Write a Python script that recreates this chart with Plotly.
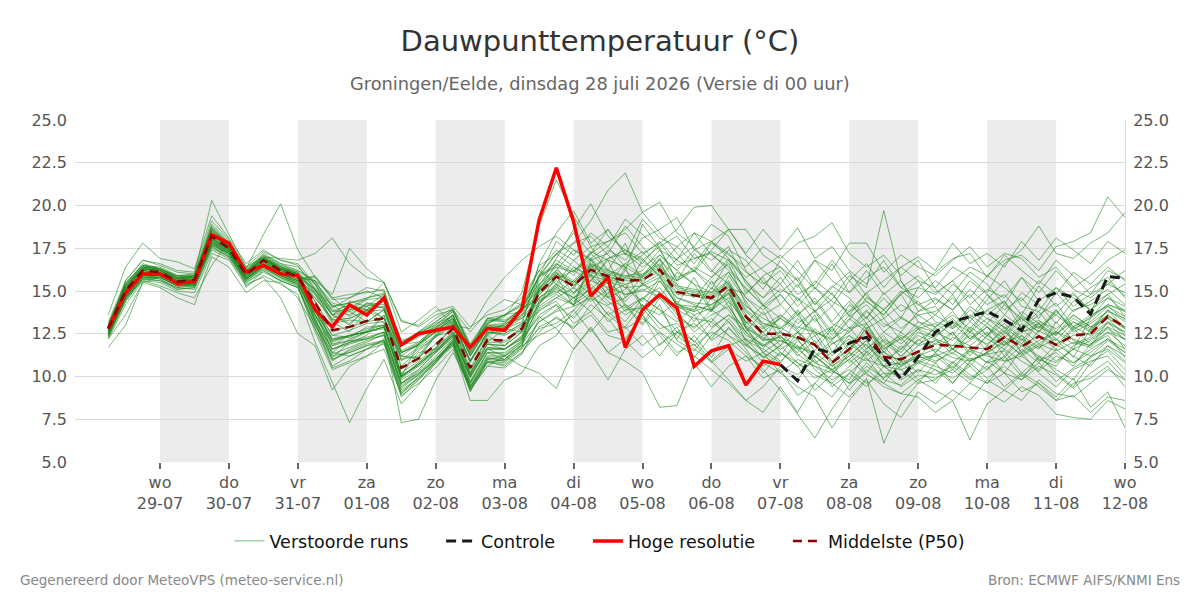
import pandas as pd
import plotly.graph_objects as go

# ---------------- data ----------------
start_time = "2026-07-28 06:00"
n_steps = 60  # 6-hourly, 28-07 06:00 .. 12-08 00:00

hires = [12.8, 14.9, 16.0, 16.0, 15.45, 15.55, 18.3, 17.8, 16.1, 16.5, 16.0, 15.9,
         13.9, 12.9, 14.2, 13.6, 14.6, 11.85, 12.5, 12.7, 12.9, 11.7, 12.8, 12.7,
         13.95, 19.15, 22.2, 19.05, 14.7, 15.8, 11.7, 13.9, 14.8, 14.0, 10.6, 11.5,
         11.8, 9.5, 10.9, 10.7]

control_start = 39  # control is shown from 07-08 00:00 onward
control = [10.7, 9.75, 11.65, 11.35, 11.95, 12.3, 11.15, 9.85, 11.15, 12.6, 13.2,
           13.5, 13.8, 13.3, 12.7, 14.5, 14.9, 14.65, 13.65, 15.85, 15.75]

p50 = [12.8, 15.0, 16.2, 16.1, 15.55, 15.65, 18.2, 17.5, 15.95, 16.8, 16.2, 15.85,
       14.3, 12.7, 12.9, 13.25, 13.4, 10.5, 11.05, 11.85, 12.8, 10.5, 12.15, 12.1, 12.8,
       14.9, 15.85, 15.3, 16.25, 15.85, 15.6, 15.65, 16.25, 14.95, 14.75, 14.6, 15.3,
       13.5, 12.5, 12.5, 12.3, 11.85, 10.8, 11.6, 12.6, 11.15, 11.0, 11.45,
       11.85, 11.8, 11.7, 11.6, 12.3, 11.75, 12.35, 11.85, 12.4, 12.5, 13.5, 12.9]

perturbed_runs = [
    [12.9,15.4,16.6,16.3,15.9,15.8,18.9,17.9,16.3,17.1,16.6,16.2, 15.5,14.3,14.0,14.6,14.9,11.9,12.0,12.9,13.6,11.4,13.1,13.6,14.3, 16.2,17.4,16.8,17.6,17.9,18.4,17.2,17.8,16.5,16.9,17.3,16.8, 15.6,14.2,15.1,14.6,13.8,14.9,13.5,14.2,13.1,12.6,13.8, 14.5,13.9,15.1,14.2,14.8,13.6,15.3,14.1,14.9,13.8,15.6,14.7],
    [12.4,14.5,15.8,15.7,15.1,15.2,17.6,17.0,15.5,16.1,15.6,15.2, 13.0,11.0,11.4,11.8,12.0,9.0,10.0,10.9,11.9,9.4,10.9,10.8,11.6, 13.2,13.8,14.1,14.6,13.2,13.9,14.0,12.8,13.1,12.0,13.2,12.4, 11.8,11.2,10.6,10.1,11.0,9.4,10.2,11.1,9.8,9.5,10.4, 10.1,10.6,9.8,10.4,11.2,10.0,10.8,9.7,10.5,11.1,11.8,10.9],
    [12.7,15.1,16.3,16.2,15.7,15.9,18.4,17.6,16.1,17.0,16.9,16.8, 17.2,18.1,16.6,15.8,15.5,13.3,12.9,13.6,13.9,12.6,13.8,14.5,14.2, 15.8,16.5,17.8,18.2,17.1,16.2,18.9,17.5,15.6,17.2,16.1,17.4, 16.8,15.5,14.9,15.8,14.2,15.2,16.1,14.7,13.9,15.0,14.2, 13.6,14.8,13.2,14.5,15.6,14.1,13.8,15.2,14.6,13.9,14.8,15.4],
    [12.2,14.2,15.6,15.5,15.0,14.9,17.2,16.8,15.3,15.9,15.4,14.8, 12.0,9.6,7.3,9.3,11.0,8.4,9.5,10.8,12.1,9.3,10.6,11.2,11.8, 12.4,12.9,13.6,14.8,15.5,14.1,13.0,14.2,12.1,11.5,12.8,13.6, 12.9,11.4,10.8,12.1,11.2,10.3,9.8,11.5,10.6,9.9,10.8, 11.2,10.4,11.5,10.8,11.9,12.4,11.0,10.6,11.8,12.2,12.9,11.6],
    [11.7,13.0,15.5,15.8,15.3,15.4,17.9,17.3,15.8,16.4,15.9,15.6, 13.2,11.1,12.0,12.4,13.6,10.0,11.9,12.8,13.2,11.6,13.1,13.5,14.9, 18.8,21.5,19.4,17.6,16.2,17.8,15.4,16.9,14.2,13.8,15.6,14.1, 12.6,13.8,12.2,11.4,12.8,11.9,12.6,13.5,12.0,11.2,12.1, 12.8,11.6,12.1,12.9,11.8,12.6,13.1,12.2,11.6,13.4,14.2,13.8],
    [12.9,15.3,16.5,16.4,15.9,15.9,18.7,17.7,16.0,16.8,16.3,15.9, 15.0,14.2,13.5,14.3,14.0,11.4,11.8,12.6,13.6,11.2,12.9,13.0,13.8, 15.9,17.2,17.8,19.1,20.9,21.9,19.6,18.4,17.2,16.1,17.4,18.6, 17.1,16.2,15.4,16.8,15.2,14.1,15.6,14.4,13.6,14.8,13.2, 12.9,13.8,12.6,13.9,14.4,12.8,13.6,14.3,12.9,13.6,14.1,13.3],
    [12.5,14.7,15.9,15.9,15.4,15.5,17.8,17.2,15.7,16.5,15.9,15.4, 13.6,12.0,12.4,12.6,12.9,9.9,10.8,11.6,12.4,10.0,11.7,11.6,12.2, 13.5,12.8,11.6,12.9,11.4,10.9,10.2,8.2,8.3,10.8,9.4,10.6, 11.2,9.9,10.4,8.9,9.6,10.8,9.2,10.4,9.6,10.9,9.8, 10.4,9.6,10.8,9.9,10.6,9.8,11.2,10.2,9.4,10.8,11.5,10.4],
    [12.8,15.2,16.4,16.2,15.6,15.7,18.5,17.4,16.3,18.3,20.1,17.4, 15.8,14.6,13.8,13.2,13.9,11.4,11.8,12.7,13.4,11.5,12.5,13.1,13.4, 14.6,15.2,16.4,15.8,14.6,15.1,16.8,15.9,14.2,13.9,15.2,14.4, 13.2,12.1,13.6,12.7,11.5,12.8,11.4,12.9,11.6,12.3,11.1, 12.2,11.3,12.6,11.8,12.9,11.4,12.7,12.1,13.2,12.6,13.9,12.8],
    [13.2,15.6,16.8,16.5,16.1,16.0,20.3,18.3,16.4,17.0,16.4,16.1, 13.9,11.4,12.2,12.6,12.9,9.8,10.4,11.4,12.5,10.0,11.6,11.6,12.2, 15.2,16.1,14.9,15.6,16.8,14.6,15.9,17.1,16.2,15.4,13.8,15.9, 14.4,12.9,11.8,13.4,12.6,11.2,12.4,11.8,10.9,11.6,12.8, 11.4,12.6,11.2,12.4,13.1,12.2,11.6,13.2,12.1,11.8,13.2,12.1],
    [12.6,14.6,15.6,15.3,14.9,14.6,16.5,17.9,15.2,16.2,15.6,15.2, 12.8,10.6,11.2,11.6,12.1,9.2,9.9,10.9,12.0,9.3,11.0,11.2,12.0, 14.2,15.4,14.6,15.1,16.0,15.2,14.4,15.8,14.1,13.6,14.0,15.1, 12.8,12.3,11.6,12.2,10.8,10.4,11.2,12.1,10.6,10.8,11.2, 11.6,11.1,10.9,11.4,12.0,11.3,11.9,11.5,12.0,11.7,12.6,12.2],
    [12.4,14.4,15.7,15.6,15.2,15.1,17.4,16.9,15.4,15.8,14.6,12.5, 11.8,9.2,10.6,11.2,12.0,8.8,9.8,10.9,12.2,9.1,10.9,10.6,11.4, 12.6,13.5,12.8,14.2,13.4,12.1,13.6,12.4,11.2,12.4,11.1,12.9, 11.6,10.2,11.4,10.6,9.2,10.1,11.4,10.2,11.5,10.4,9.6, 9.8,10.9,10.1,9.6,10.8,11.4,10.2,9.4,10.4,10.9,11.2,10.1],
    [12.7,14.9,16.0,16.0,15.5,15.6,18.0,17.3,15.8,16.6,16.0,15.6, 15.9,14.6,14.8,14.9,15.1,11.8,12.6,13.2,13.9,11.6,13.4,13.2,14.0, 14.5,15.0,14.2,16.8,15.4,14.8,15.1,14.6,13.8,12.6,13.4,12.4, 11.4,10.4,9.2,7.8,6.4,8.1,9.5,10.6,9.9,11.1,10.2, 11.4,10.5,11.6,10.8,11.1,12.2,10.9,11.4,10.6,11.9,12.6,11.8],
    [13.0,15.5,16.5,16.2,15.8,15.9,18.6,17.6,16.1,16.9,16.4,16.0, 14.8,13.6,13.0,14.1,13.4,11.2,11.1,12.4,13.3,10.9,12.5,12.9,13.5, 15.1,16.6,15.9,17.2,16.2,15.8,16.2,17.4,15.6,16.2,15.1,16.8, 14.9,15.8,14.2,15.4,13.8,14.5,15.9,15.2,19.7,15.6,13.8, 14.1,12.8,13.5,12.4,13.6,12.9,13.8,12.6,13.9,14.2,14.8,13.5],
    [12.5,14.8,16.1,16.0,15.5,15.3,17.9,17.3,15.9,16.6,16.1,15.7, 13.2,10.5,10.9,11.6,11.9,9.0,9.8,10.8,12.0,9.6,11.4,11.0,11.8, 14.4,14.9,15.6,14.8,15.9,14.2,13.6,14.9,13.6,12.8,13.9,13.2, 12.1,11.6,10.9,11.8,10.4,9.6,8.8,9.9,6.1,8.4,9.6, 10.8,9.6,10.9,11.4,10.2,11.6,10.8,11.9,11.2,10.6,11.8,11.2],
    [12.6,14.9,16.1,16.1,15.6,15.6,18.1,17.4,16.0,16.7,16.2,15.8, 15.6,14.0,14.6,15.0,14.6,12.1,12.4,12.9,13.4,11.8,13.0,12.9,13.6, 14.8,15.6,14.9,16.0,15.1,14.4,15.4,16.0,14.6,14.2,13.8,14.9, 12.8,11.7,12.4,11.3,10.6,10.2,11.0,10.1,9.6,9.0,8.8, 7.9,8.6,6.3,8.4,9.2,8.6,9.8,9.0,8.8,9.6,10.4,9.8],
    [12.9,15.2,16.3,16.2,15.7,15.8,18.3,17.6,16.1,16.9,16.3,16.0, 13.9,12.1,12.4,12.6,12.9,10.0,10.8,11.5,12.4,10.1,11.9,11.6,12.4, 15.0,16.0,15.4,16.4,16.0,15.7,15.8,16.4,15.1,14.9,14.7,15.4, 13.6,12.6,13.4,12.8,13.9,12.6,14.2,13.4,14.6,13.4,15.2, 14.8,15.6,16.4,15.9,16.8,17.1,16.2,17.6,17.9,18.4,20.5,19.3],
    [12.6,14.7,15.9,15.9,15.4,15.5,18.0,17.3,15.8,16.6,16.1,15.7, 14.8,13.1,13.3,13.2,13.9,10.6,11.5,12.3,13.0,10.8,12.6,12.4,13.0, 14.6,15.4,14.8,15.9,15.6,15.2,15.3,15.8,14.6,14.3,14.2,14.8, 13.0,12.2,12.1,11.7,11.4,10.6,11.2,12.1,10.9,10.7,11.1, 11.2,11.6,11.0,11.3,11.5,10.2,9.6,8.8,9.9,8.2,9.1,7.0],
    [12.8,15.1,16.3,16.2,15.7,15.7,18.4,17.6,16.0,16.9,16.3,15.9, 13.6,11.6,12.0,12.2,12.6,9.6,10.3,11.2,12.2,9.7,11.4,11.4,12.1, 15.1,16.1,15.5,16.5,16.1,15.8,15.9,16.5,15.2,15.0,14.8,15.5, 13.8,12.9,13.6,12.9,12.6,12.1,13.3,14.6,13.9,14.8,15.6, 15.2,16.4,15.8,14.9,16.6,17.4,18.8,17.2,16.9,17.8,18.4,19.6],
    [13.1,15.4,16.5,16.3,15.9,16.0,18.8,17.8,16.2,17.2,16.6,16.4, 15.4,13.8,14.2,13.9,14.6,11.8,12.4,13.1,13.5,11.6,13.2,13.6,13.8, 16.5,17.1,18.4,17.2,18.6,17.1,19.2,18.1,17.6,18.4,17.9,16.9, 15.8,16.4,17.1,16.2,15.1,16.6,14.9,15.8,16.4,15.2,14.6, 15.6,14.8,16.1,15.4,14.2,15.8,14.9,16.2,15.1,14.6,15.4,16.2],
    [12.3,14.6,15.7,15.8,15.3,15.3,17.7,17.1,15.6,16.3,15.8,15.4, 13.2,11.6,12.0,12.3,12.6,9.6,10.4,11.4,12.3,9.7,11.4,11.3,12.1, 13.6,14.2,13.4,14.6,14.1,13.2,14.6,13.9,12.6,13.1,12.2,13.4, 12.2,11.1,11.8,10.8,10.1,9.6,10.6,11.4,10.2,10.1,10.9, 10.6,10.2,11.1,10.4,11.6,10.9,10.3,11.2,10.8,11.6,12.2,11.4],
    [12.6,14.8,16.0,16.0,15.5,15.6,18.0,17.4,15.9,16.7,16.1,15.8, 15.1,13.6,13.8,14.2,14.0,11.2,11.9,12.6,13.4,11.3,12.9,12.8,13.4, 14.3,15.2,14.6,15.4,14.4,13.6,14.2,13.1,12.4,11.6,10.9,9.8, 8.6,7.9,9.4,7.9,9.6,8.8,10.2,9.4,10.6,9.8,10.4, 9.6,10.8,9.9,10.6,9.4,10.2,11.1,10.4,9.8,11.2,11.6,10.8],
    [12.9,15.3,16.4,16.3,15.8,15.8,18.5,17.7,16.1,17.0,16.4,16.0, 14.0,12.4,12.3,12.9,13.0,10.1,10.6,11.7,12.5,10.2,11.9,11.8,12.6, 15.4,16.4,16.1,17.3,16.8,16.4,17.1,17.9,16.8,16.2,17.8,17.1, 16.4,17.6,16.9,17.8,18.2,19.0,17.2,16.4,17.1,15.9,16.8, 15.1,14.2,15.6,14.8,13.9,14.6,13.4,14.9,13.8,14.4,15.1,14.2],
    [12.8,15.0,16.2,16.0,15.5,15.6,18.1,17.5,16.0,16.8,16.2,15.9, 14.6,13.4,13.9,14.5,15.5,12.6,13.3,14.1,13.0,12.8,14.5,15.8,16.8, 17.6,18.2,17.4,16.9,17.6,16.4,15.8,16.9,15.4,14.6,15.8,16.6, 14.2,13.1,12.8,13.9,12.6,12.2,13.4,12.6,11.8,12.4,11.9, 12.4,13.1,12.2,12.9,12.0,12.8,13.3,12.5,13.2,12.7,13.6,12.9],
    [12.4,14.6,15.9,15.8,15.3,15.4,17.8,17.2,15.7,16.4,15.8,15.4, 13.6,11.8,12.1,12.2,12.6,7.3,7.5,9.8,11.4,9.4,10.8,11.0,11.9, 13.2,13.9,14.6,13.8,14.9,15.4,14.1,13.6,14.4,13.2,14.6,13.9, 12.4,11.9,11.2,12.6,11.8,10.9,11.6,12.8,11.4,10.9,11.8, 12.1,11.6,12.4,11.9,12.7,11.4,12.1,12.6,11.9,12.3,13.1,12.6],
    [12.6,14.8,16.0,15.9,15.4,15.5,17.9,17.3,15.8,16.5,16.0,15.6, 13.9,12.2,12.3,12.7,13.0,10.0,10.7,11.5,12.4,10.0,11.6,11.2,10.6, 10.2,9.3,11.6,12.8,11.4,12.2,13.6,11.8,12.9,11.1,12.4,13.2, 11.8,12.6,11.4,10.6,11.2,12.1,10.8,11.6,12.4,11.1,12.2, 11.4,12.3,11.8,12.6,11.2,12.4,11.7,12.2,11.1,12.8,13.4,12.4],
    [12.7,15.0,16.2,16.1,15.6,15.7,18.3,17.5,16.0,16.8,16.3,15.9, 15.4,14.1,14.3,14.5,14.6,11.8,12.3,13.0,13.8,11.7,13.3,13.2,13.8, 15.3,16.9,18.6,20.1,18.2,17.4,16.9,15.8,16.9,17.6,16.2,15.4, 14.1,13.4,12.9,12.2,13.6,11.4,12.8,13.1,11.6,12.2,12.9, 12.6,12.1,13.2,12.4,13.4,12.6,12.9,13.6,12.8,13.2,14.1,13.5],
    [12.9,15.2,16.3,16.2,15.7,15.7,18.4,17.6,16.1,16.9,16.4,16.0, 13.4,11.0,11.5,11.9,12.1,9.3,10.1,11.0,11.9,9.2,11.0,10.9,11.7, 15.9,16.6,16.1,17.2,17.9,18.6,19.6,20.2,18.4,17.6,18.9,18.2, 16.2,15.1,16.8,15.6,14.2,15.3,14.6,13.4,14.9,13.8,14.4, 13.2,12.8,13.9,13.1,14.2,13.4,12.6,13.9,12.7,13.5,14.2,13.9],
    [12.5,14.7,15.9,15.9,15.4,15.4,17.8,17.2,15.7,16.5,16.0,15.6, 14.6,13.3,13.4,13.8,13.9,10.9,11.6,12.3,13.2,10.9,12.6,12.5,13.1, 14.1,14.8,14.2,15.2,14.6,14.0,14.6,15.2,13.9,13.4,13.2,14.4, 12.0,10.8,10.2,9.4,8.8,7.0,8.6,9.8,8.4,7.6,9.1, 8.4,9.2,8.6,9.8,9.2,10.1,9.4,8.6,9.6,9.9,10.6,9.4],
    [12.8,15.1,16.3,16.2,15.7,15.8,18.3,17.6,16.1,16.9,16.3,16.0, 14.1,12.4,12.7,13.1,13.2,10.2,10.9,11.7,12.6,10.4,12.0,12.0,12.7, 15.2,16.2,15.6,16.6,16.2,15.9,16.0,16.6,15.3,15.1,14.9,15.6, 13.9,13.1,12.8,13.6,12.4,12.9,13.8,14.4,13.6,14.9,15.2, 16.1,16.9,17.2,15.8,17.1,16.2,15.4,16.8,15.9,14.8,16.2,15.7],
    [12.5,14.6,15.8,15.8,15.3,15.4,17.7,17.1,15.6,16.4,15.9,15.5, 13.4,11.3,11.7,12.1,12.4,9.4,10.1,11.0,12.0,9.5,11.1,11.0,11.9, 13.9,14.4,13.1,13.8,12.6,12.9,11.8,12.6,11.4,11.9,10.8,11.6, 10.9,11.4,10.2,11.0,10.6,9.8,10.4,9.6,10.2,9.4,10.1, 9.9,10.4,9.6,10.9,10.2,9.8,10.6,10.1,9.3,10.2,10.9,9.8],
    [13.0,15.3,16.4,16.3,15.8,15.8,18.6,17.7,16.2,17.1,16.5,16.2, 15.6,14.8,17.5,16.3,15.5,13.2,13.0,13.8,14.1,12.9,13.6,13.9,14.6, 16.2,15.4,16.8,15.9,14.8,16.2,15.4,14.6,16.1,15.4,14.9,16.1, 14.6,13.9,14.8,13.6,14.4,13.1,12.6,13.8,12.9,13.5,12.8, 13.1,12.4,13.6,12.9,12.2,13.5,12.8,13.9,12.6,13.1,13.8,13.4],
    [12.7,14.9,16.1,16.1,15.6,15.6,18.2,17.5,16.0,16.8,16.2,15.9, 15.1,13.8,13.9,14.1,14.4,11.5,12.0,12.8,13.6,11.4,13.0,13.1,14.0, 15.8,17.2,16.4,15.9,17.4,16.8,18.1,18.6,19.3,17.4,16.8,17.6, 15.4,14.6,15.8,14.4,15.6,14.8,13.6,14.9,13.4,14.2,13.6, 13.8,14.6,13.4,14.8,13.6,14.9,14.2,13.1,14.4,15.2,15.8,14.6],
    [12.4,14.5,15.8,15.7,15.2,15.3,17.6,17.0,15.6,16.3,15.7,15.3, 12.6,10.4,10.8,11.2,11.6,8.9,9.6,10.5,11.6,9.2,10.6,10.5,11.3, 13.4,14.2,12.6,11.4,9.8,11.6,12.4,11.2,12.6,12.1,10.9,11.8, 12.2,11.8,12.6,11.6,12.4,10.9,11.9,11.2,12.1,11.4,12.6, 12.2,11.8,12.9,12.2,11.6,12.8,11.9,12.6,12.2,11.8,12.9,12.4],
    [12.8,15.0,16.2,16.1,15.6,15.6,18.2,17.5,16.0,16.8,16.2,15.9, 14.4,12.7,12.9,13.2,13.4,10.5,11.1,11.9,12.8,10.5,12.2,12.1,12.8, 14.9,15.8,15.3,16.2,15.8,15.6,15.6,16.3,14.9,14.8,14.6,15.3, 13.4,12.4,12.6,12.2,11.9,10.8,11.6,12.6,11.2,11.0,11.5, 11.9,11.8,11.7,11.6,12.3,11.8,12.4,11.9,12.4,12.5,13.5,12.9],
    [12.7,15.0,16.1,16.0,15.5,15.6,18.1,17.4,15.9,16.7,16.1,15.8, 15.8,14.5,14.6,15.2,15.0,12.0,12.6,13.4,14.0,11.9,13.4,13.6,14.1, 15.0,15.8,15.3,16.1,15.7,15.4,15.7,16.1,14.8,14.7,14.5,15.2, 14.8,15.9,16.4,15.6,16.8,16.2,17.8,17.8,16.1,17.1,16.4, 15.9,16.8,17.6,16.4,17.2,16.9,15.8,16.4,15.2,15.9,16.8,17.4],
    [12.5,14.6,15.8,15.8,15.3,15.3,17.7,17.2,15.7,16.4,15.8,15.3, 13.0,11.4,11.2,11.6,12.2,9.6,10.2,11.0,11.8,8.6,8.6,9.8,10.2, 11.8,12.4,13.9,14.8,13.6,14.2,13.1,14.6,13.4,12.9,13.6,14.1, 12.6,11.4,12.1,11.6,10.8,11.4,12.2,11.0,10.6,11.8,10.9, 11.3,10.8,11.6,11.2,10.9,11.8,11.2,10.8,11.6,11.2,12.1,11.4],
    [12.9,15.2,16.4,16.2,15.7,15.7,18.4,17.6,16.1,16.9,16.3,16.0, 13.8,12.1,12.4,12.6,12.9,10.0,10.7,11.5,12.6,10.2,11.9,11.8,13.0, 16.6,18.4,19.7,17.8,18.6,17.2,16.8,17.6,18.2,16.9,17.2,16.2, 15.2,14.1,14.8,13.6,14.6,13.2,14.4,13.1,13.9,12.8,13.6, 12.9,13.6,12.8,13.9,12.8,13.4,12.6,13.8,12.9,13.4,14.6,13.8],
    [12.6,14.8,16.0,15.9,15.4,15.5,17.9,17.3,15.8,16.6,16.0,15.6, 14.9,13.3,13.4,13.9,14.1,11.0,11.7,12.4,13.3,10.9,12.6,12.5,13.1, 13.8,14.6,14.2,14.9,13.6,12.8,13.4,12.6,11.9,11.2,10.4,9.6, 8.6,9.4,10.6,9.8,11.2,10.4,9.6,10.8,9.9,10.6,11.4, 10.9,11.4,10.6,11.8,10.9,11.2,10.4,11.6,10.8,11.4,12.2,11.6],
    [12.8,15.1,16.2,16.1,15.6,15.7,18.3,17.5,16.0,16.8,16.2,15.9, 13.3,11.6,11.9,12.2,12.4,9.5,10.1,11.0,12.1,9.6,11.2,11.2,12.0, 15.1,16.0,15.5,16.4,16.9,17.4,16.6,17.8,18.6,19.9,20.0,18.6, 18.6,17.1,16.4,15.2,16.8,15.6,14.9,16.2,14.8,15.6,14.2, 14.6,13.9,14.8,13.6,14.4,13.2,14.1,13.6,14.8,13.9,14.6,14.1],
    [12.7,14.9,16.1,16.0,15.5,15.6,18.1,17.4,15.9,16.7,16.1,15.8, 15.6,14.1,14.3,14.6,14.8,11.9,12.4,13.2,13.9,11.8,13.4,13.3,13.9, 14.8,15.7,16.2,15.6,16.9,17.2,16.4,17.1,16.2,17.4,17.9,18.6, 17.2,18.6,17.4,18.7,16.9,17.6,16.2,15.4,16.8,15.2,15.9, 14.9,15.6,14.2,15.1,14.6,15.8,14.4,15.2,14.1,14.8,15.4,14.9],
    [12.3,14.4,15.7,15.6,15.1,15.2,17.5,17.0,15.5,16.2,15.6,15.2, 13.0,11.2,11.4,11.8,12.1,9.1,9.9,10.8,11.8,9.2,10.8,10.7,11.4, 12.9,13.4,12.9,13.6,12.4,12.1,11.1,11.9,12.6,11.8,12.6,12.1, 11.2,10.6,11.4,10.8,9.9,10.4,9.6,10.2,9.4,9.0,9.8, 9.2,8.6,9.6,9.1,8.5,9.4,8.9,7.8,7.6,7.5,8.6,8.1],
    [13.0,15.4,16.5,16.3,15.8,15.9,18.6,17.7,16.2,17.0,16.5,16.1, 15.2,13.9,13.6,14.3,14.2,11.4,11.9,12.6,13.4,11.2,12.8,12.9,13.6, 15.6,16.8,16.2,16.9,15.9,16.6,17.3,16.2,15.6,16.4,15.8,16.9, 15.6,14.6,15.4,14.1,15.2,14.4,13.8,14.9,15.6,16.4,17.0, 16.2,17.8,16.6,17.2,16.4,17.9,16.8,18.1,17.4,16.6,17.9,17.2],
    [12.6,14.7,15.9,15.9,15.4,15.4,17.8,17.2,15.7,16.5,15.9,15.5, 13.8,12.2,12.4,12.8,13.0,10.0,10.7,11.5,12.4,10.1,11.7,11.6,12.3, 14.0,14.6,15.2,14.4,15.1,13.8,14.6,13.9,13.2,14.1,12.9,13.6, 12.6,11.8,12.4,11.2,12.1,10.6,11.4,10.9,11.8,10.6,11.2, 10.8,11.6,10.9,11.4,12.1,11.2,11.8,10.9,11.6,12.1,12.8,12.2],
    [12.9,15.2,16.3,16.2,15.7,15.8,18.4,17.6,16.0,16.9,16.3,16.0, 15.1,13.2,12.6,13.9,13.1,11.2,11.0,12.4,12.6,11.0,12.0,12.8,12.6, 14.2,15.9,14.1,16.6,14.6,16.4,13.9,15.6,14.2,15.8,13.9,15.1, 13.1,14.2,12.6,13.8,11.9,12.9,11.6,13.1,11.4,12.6,11.8, 12.9,11.6,12.8,11.4,12.6,11.9,13.1,11.8,12.9,12.4,13.2,12.6],
    [12.5,14.7,15.9,15.8,15.3,15.4,17.8,17.2,15.7,16.5,15.9,15.5, 13.6,11.9,12.1,12.6,12.8,9.9,10.6,11.4,12.3,9.9,11.6,11.6,12.3, 14.4,15.1,14.6,15.6,15.2,14.8,15.0,15.6,14.2,14.1,13.9,14.6, 12.9,12.1,12.3,11.8,11.2,10.4,11.0,11.9,10.6,10.4,10.8, 10.4,9.9,10.6,9.6,10.2,9.1,9.6,8.6,8.9,7.9,8.8,8.6],
    [13.6,16.4,17.8,16.9,16.7,16.3,19.4,18.1,16.6,17.4,16.8,16.6, 15.4,13.6,14.4,14.1,14.8,11.9,12.6,13.0,13.8,11.8,13.1,13.6,14.2, 15.4,16.2,17.4,16.8,17.2,18.8,17.6,16.4,17.6,16.6,17.9,17.2, 16.1,15.4,16.2,14.8,15.4,16.8,15.6,16.6,15.2,16.4,15.6, 14.2,15.4,14.6,15.9,15.2,14.4,15.6,14.8,16.1,15.4,16.4,15.6],
    [12.2,13.6,15.5,15.2,14.6,14.2,17.0,16.4,14.9,15.6,15.5,14.6, 12.8,10.9,11.6,12.0,12.5,9.6,10.2,11.1,12.0,9.4,11.1,10.9,11.7, 12.8,13.1,13.9,12.6,13.8,12.9,14.2,13.1,12.2,13.6,12.1,12.8, 11.9,11.1,11.8,12.6,11.1,11.9,12.4,11.4,12.2,11.6,12.4, 11.9,12.6,11.4,12.4,11.8,13.1,12.4,11.6,12.8,11.9,12.4,11.1],
    [12.8,15.6,16.8,16.6,16.2,16.1,19.1,18.0,16.4,17.3,16.8,16.5, 15.1,13.6,14.1,13.9,14.4,11.4,11.9,12.8,13.6,11.2,12.8,13.0,13.9, 15.9,16.4,15.1,16.9,15.4,16.6,15.9,16.8,15.8,16.2,15.4,16.1, 14.6,13.6,14.2,13.1,13.8,12.4,13.6,12.8,13.4,12.1,13.2, 12.6,13.4,12.2,13.1,12.4,13.6,12.9,12.4,13.4,12.8,13.9,13.2],
    [12.6,14.9,16.0,16.0,15.5,15.5,18.0,17.4,15.9,16.6,16.0,15.7, 14.4,11.8,12.4,12.6,13.6,10.1,11.4,11.6,13.1,10.2,12.4,11.8,12.6, 14.6,15.3,14.4,15.1,14.2,14.6,15.4,14.9,14.1,13.8,14.2,14.9, 13.2,12.8,13.4,12.6,13.4,12.2,12.9,11.6,12.6,11.9,12.8, 12.3,13.2,12.6,13.4,12.9,12.1,13.2,12.8,13.6,12.9,13.4,12.8],
    [12.9,15.3,16.4,16.3,15.8,15.9,18.7,17.8,16.2,17.0,16.4,16.1, 14.9,13.6,13.1,13.9,13.4,11.0,11.2,12.5,13.1,10.9,12.4,12.8,13.2, 15.9,17.9,17.1,18.4,17.6,19.2,18.3,17.4,16.8,18.4,17.1,16.4, 15.1,14.2,13.4,14.6,13.2,14.1,12.8,13.9,12.6,13.4,12.9, 13.6,12.9,14.1,13.4,12.6,13.8,13.1,12.4,13.6,12.9,13.6,12.8],
]

tick_dates = ["2026-07-29", "2026-07-30", "2026-07-31", "2026-08-01", "2026-08-02",
              "2026-08-03", "2026-08-04", "2026-08-05", "2026-08-06", "2026-08-07",
              "2026-08-08", "2026-08-09", "2026-08-10", "2026-08-11", "2026-08-12"]
tick_days = ["wo", "do", "vr", "za", "zo", "ma", "di", "wo", "do", "vr", "za", "zo",
             "ma", "di", "wo"]
y_ticks = [5.0, 7.5, 10.0, 12.5, 15.0, 17.5, 20.0, 22.5, 25.0]

title_text = "Dauwpunttemperatuur (°C)"
subtitle_text = "Groningen/Eelde, dinsdag 28 juli 2026 (Versie di 00 uur)"
footer_left = "Gegenereerd door MeteoVPS (meteo-service.nl)"
footer_right = "Bron: ECMWF AIFS/KNMI Ens"
legend_names = ["Verstoorde runs", "Controle", "Hoge resolutie", "Middelste (P50)"]

# ---------------- figure ----------------
times = pd.date_range(start_time, periods=n_steps, freq="6h")
for run in perturbed_runs:
    assert len(run) == n_steps, len(run)
assert len(p50) == n_steps

pad = "\u00a0" * 5  # extra spacing between legend entries
fig = go.Figure()
for i, run in enumerate(perturbed_runs):
    fig.add_trace(go.Scatter(
        x=times, y=run, mode="lines", name=legend_names[0] + pad,
        legendgroup="ens", showlegend=(i == 0),
        line=dict(color="rgba(34,139,34,0.6)", width=1), hoverinfo="skip"))

fig.add_trace(go.Scatter(
    x=times[control_start:control_start + len(control)], y=control, mode="lines",
    name=legend_names[1] + pad, line=dict(color="#1a1a1a", width=3, dash="10px,6px")))
fig.add_trace(go.Scatter(
    x=times[:len(hires)], y=hires, mode="lines", name=legend_names[2] + pad,
    line=dict(color="#ff0000", width=3.5)))
fig.add_trace(go.Scatter(
    x=times, y=p50, mode="lines", name=legend_names[3], yaxis="y2",
    line=dict(color="#8b0000", width=2.5, dash="9px,6px")))

# shaded alternate days
for d in tick_dates[0:-1:2]:
    d0 = pd.Timestamp(d)
    fig.add_shape(type="rect", xref="x", yref="paper", x0=d0, x1=d0 + pd.Timedelta(days=1),
                  y0=0, y1=1, fillcolor="#ececec", line_width=0, layer="below")

tick_text = [f"{day}<br>{pd.Timestamp(d).strftime('%d-%m')}" for day, d in zip(tick_days, tick_dates)]
x_start = pd.Timestamp(tick_dates[0]) - pd.Timedelta(hours=29.6)
x_end = pd.Timestamp(tick_dates[-1])

axis_font = dict(family="DejaVu Sans", size=16, color="#555555")
fig.update_layout(
    width=1200, height=600,
    margin=dict(l=75, r=75, t=120, b=138),
    paper_bgcolor="white", plot_bgcolor="white",
    font=dict(family="DejaVu Sans", color="#555555"),
    title=dict(text=title_text, x=0.5, xanchor="center", y=1 - 41 / 600, yanchor="middle",
               font=dict(size=29, color="#333333")),
    showlegend=True,
    legend=dict(orientation="h", x=0.5, xanchor="center", y=-0.231, yanchor="middle",
                font=dict(family="DejaVu Sans", size=17.5, color="#111111"),
                bgcolor="rgba(0,0,0,0)"),
    xaxis=dict(type="date", range=[x_start, x_end], tickvals=tick_dates, ticktext=tick_text,
               ticks="outside", ticklen=6, tickwidth=2, tickcolor="#666666",
               showgrid=False, zeroline=False, showline=False, tickfont=axis_font),
    yaxis=dict(range=[5, 25], tickvals=y_ticks, ticktext=[f"{v:.1f}" for v in y_ticks],
               showgrid=True, gridcolor="#d9d9d9", gridwidth=1, zeroline=False,
               showline=False, ticks="", tickfont=axis_font, ticklabelstandoff=7),
    yaxis2=dict(range=[5, 25], overlaying="y", side="right", tickvals=y_ticks,
                ticktext=[f"{v:.1f}" for v in y_ticks], showgrid=False, zeroline=False,
                showline=True, linecolor="#dddddd", linewidth=1, ticks="",
                tickfont=axis_font, ticklabelstandoff=4),
    annotations=[
        dict(text=subtitle_text, xref="paper", yref="paper", x=0.5, y=1 + (120 - 83) / 342,
             xanchor="center", yanchor="middle", showarrow=False,
             font=dict(size=17.8, color="#666666")),
        dict(text=footer_left, xref="paper", yref="paper", x=(18 - 75) / 1050,
             y=-(580 - 462) / 342, xanchor="left", yanchor="middle", showarrow=False,
             font=dict(size=13.5, color="#888888")),
        dict(text=footer_right, xref="paper", yref="paper", x=(1182 - 75) / 1050,
             y=-(580 - 462) / 342, xanchor="right", yanchor="middle", showarrow=False,
             font=dict(size=13.5, color="#888888")),
    ],
)

fig.write_html("out.html")
